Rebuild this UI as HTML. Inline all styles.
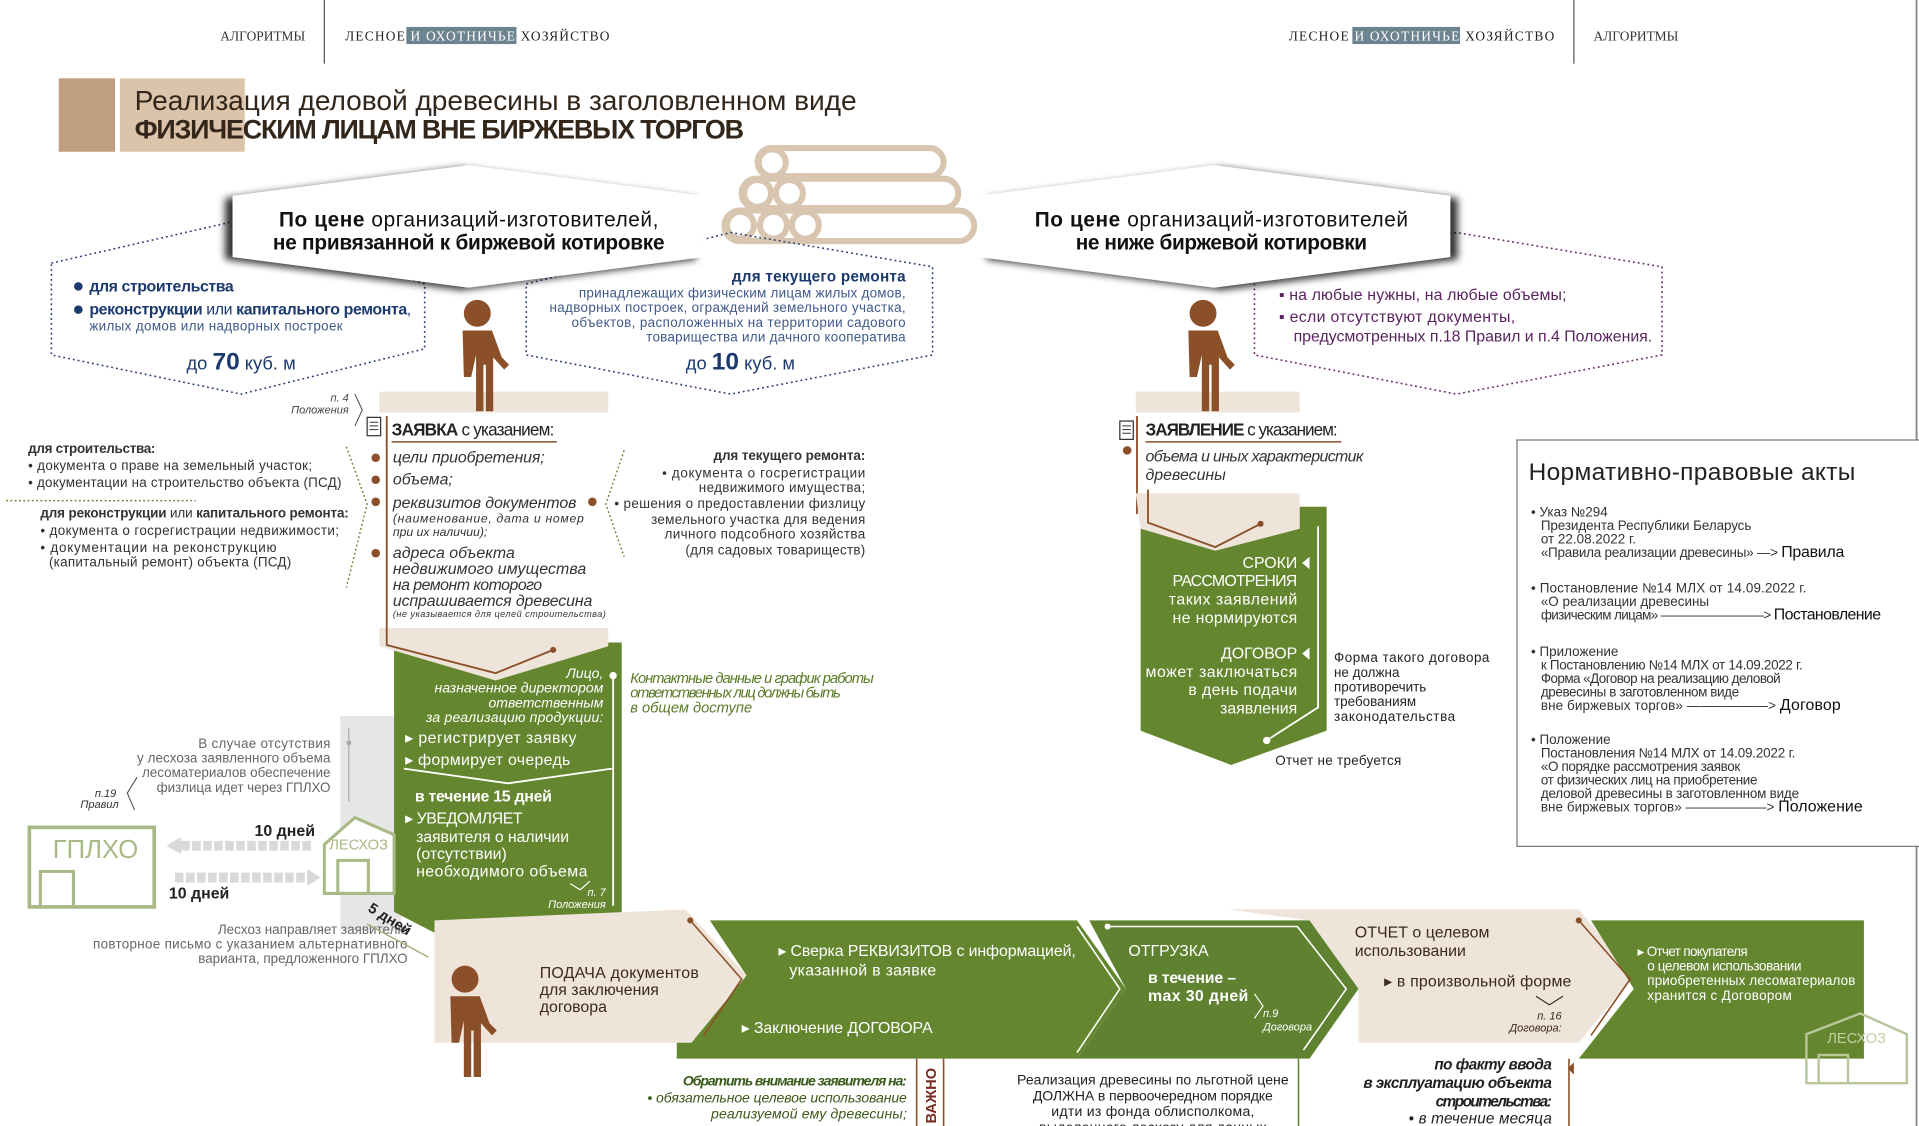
<!DOCTYPE html>
<html><head><meta charset="utf-8">
<style>
html,body{margin:0;padding:0;background:#fff;width:1919px;height:1126px;overflow:hidden}
svg{display:block}
text{font-family:"Liberation Sans Narrow","Liberation Sans",sans-serif}
.it{font-style:italic}
.b{font-weight:bold}
.w{fill:#fff}
.r{text-anchor:end}
.m{text-anchor:middle}
</style></head><body>
<svg width="1919" height="1126" viewBox="0 0 1568 920" preserveAspectRatio="none" xmlns="http://www.w3.org/2000/svg">
<defs>
<filter id="shL" x="-20%" y="-20%" width="140%" height="140%"><feGaussianBlur in="SourceAlpha" stdDeviation="3"/><feOffset dx="-6" dy="2"/><feComponentTransfer><feFuncA type="linear" slope="0.8"/></feComponentTransfer><feMerge><feMergeNode/><feMergeNode in="SourceGraphic"/></feMerge></filter>
<filter id="shR" x="-20%" y="-20%" width="140%" height="140%"><feGaussianBlur in="SourceAlpha" stdDeviation="3"/><feOffset dx="6" dy="2"/><feComponentTransfer><feFuncA type="linear" slope="0.8"/></feComponentTransfer><feMerge><feMergeNode/><feMergeNode in="SourceGraphic"/></feMerge></filter>
<g id="person" fill="#8b5029"><circle cx="0" cy="0" r="11"/><path d="M-12,14 h24 l8,22 l6,6 l-4,4 l-9,-10 v44 h-6 v-38 h-2 v38 h-6 v-46 l-4,18 h-6 z"/></g>
</defs>

<!-- header -->
<text x="180" y="33" style="font-family:'Liberation Serif',serif" font-size="11" fill="#333">АЛГОРИТМЫ</text>
<line x1="265" y1="0" x2="265" y2="52" stroke="#555" stroke-width="1"/>
<rect x="332" y="22" width="90" height="14" fill="#6e8390"/>
<text x="282" y="33" style="font-family:'Liberation Serif',serif" font-size="11" fill="#222" textLength="216">ЛЕСНОЕ <tspan fill="#fff">И ОХОТНИЧЬЕ</tspan> ХОЗЯЙСТВО</text>
<rect x="1105" y="22" width="88" height="14" fill="#6e8390"/>
<text x="1053" y="33" style="font-family:'Liberation Serif',serif" font-size="11" fill="#222" textLength="217">ЛЕСНОЕ <tspan fill="#fff">И ОХОТНИЧЬЕ</tspan> ХОЗЯЙСТВО</text>
<line x1="1286" y1="0" x2="1286" y2="52" stroke="#555"/>
<text x="1302" y="33" style="font-family:'Liberation Serif',serif" font-size="11" fill="#333">АЛГОРИТМЫ</text>
<line x1="1566" y1="0" x2="1566" y2="920" stroke="#888" stroke-width="1.5"/>

<!-- title -->
<rect x="48" y="64" width="46" height="60" fill="#bf9f7e"/>
<rect x="98" y="64" width="102" height="60" fill="#dcc4aa"/>
<text x="110" y="90" font-size="23" fill="#33261b" textLength="590">Реализация деловой древесины в заголовленном виде</text>
<text x="110" y="113" font-size="22" font-weight="bold" fill="#33261b" textLength="498">ФИЗИЧЕСКИМ ЛИЦАМ ВНЕ БИРЖЕВЫХ ТОРГОВ</text>

<!-- logs -->
<g fill="#fff" stroke="#d9c6b1" stroke-width="5">
<rect x="592" y="172" width="204" height="25" rx="12.5"/>
<rect x="606" y="146" width="177" height="24" rx="12"/>
<rect x="619" y="121" width="152" height="23" rx="11.5"/>
<circle cx="631" cy="133" r="11"/>
<circle cx="619" cy="158" r="11"/><circle cx="645" cy="158" r="11"/>
<circle cx="605" cy="184" r="11"/><circle cx="632" cy="184" r="11"/><circle cx="658" cy="184" r="11"/>
</g>

<!-- dotted hexagons -->
<polygon points="42,215 195,180 347,232 347,285 197,322 42,290" fill="none" stroke="#2b3e78" stroke-width="1.3" stroke-dasharray="1.5,2.5"/>
<polygon points="430,232 597,190 762,218 762,290 597,322 430,290" fill="none" stroke="#2b3e78" stroke-width="1.3" stroke-dasharray="1.5,2.5"/>
<polygon points="1025,230 1190,190 1358,218 1358,290 1190,322 1025,290" fill="none" stroke="#6b2b6b" stroke-width="1.3" stroke-dasharray="1.5,2.5"/>

<!-- hexagons -->
<polygon points="190,160 383,135 575,160 575,210 383,235 190,210" fill="#fff" filter="url(#shL)"/>
<text x="383" y="185" class="m" font-size="17" fill="#111" textLength="310"><tspan font-weight="bold">По цене</tspan> организаций-изготовителей,</text>
<text x="383" y="204" class="m" font-size="17" font-weight="bold" fill="#111" textLength="320">не привязанной к биржевой котировке</text>
<polygon points="800,160 992,135 1185,160 1185,210 992,235 800,210" fill="#fff" filter="url(#shR)"/>
<text x="998" y="185" class="m" font-size="17" fill="#111" textLength="305"><tspan font-weight="bold">По цене</tspan> организаций-изготовителей</text>
<text x="998" y="204" class="m" font-size="17" font-weight="bold" fill="#111" textLength="238">не ниже биржевой котировки</text>

<!-- left dotted content -->
<circle cx="64" cy="234" r="3.5" fill="#1d3a6e"/><circle cx="64" cy="253" r="3.5" fill="#1d3a6e"/>
<text x="73" y="238" font-size="13" font-weight="bold" fill="#1d3a6e" textLength="118">для строительства</text>
<text x="73" y="257" font-size="13" fill="#1d3a6e" textLength="263"><tspan font-weight="bold">реконструкции</tspan> или <tspan font-weight="bold">капитального ремонта</tspan>,</text>
<text x="73" y="270" font-size="11" fill="#3f5a8a" textLength="207">жилых домов или надворных построек</text>
<text x="197" y="302" class="m" font-size="15" fill="#1d3a6e">до <tspan font-size="20" font-weight="bold">70</tspan> куб. м</text>

<text x="740" y="230" class="r b" font-size="12.5" fill="#1d3a6e" textLength="142">для текущего ремонта</text>
<text x="740" y="243" class="r" font-size="11" fill="#3f5a8a" textLength="267">принадлежащих физическим лицам жилых домов,</text>
<text x="740" y="255" class="r" font-size="11" fill="#3f5a8a" textLength="291">надворных построек, ограждений земельного участка,</text>
<text x="740" y="267" class="r" font-size="11" fill="#3f5a8a" textLength="273">объектов, расположенных на территории садового</text>
<text x="740" y="279" class="r" font-size="11" fill="#3f5a8a" textLength="212">товарищества или дачного кооператива</text>
<text x="605" y="302" class="m" font-size="15" fill="#1d3a6e">до <tspan font-size="20" font-weight="bold">10</tspan> куб. м</text>

<text x="1045" y="245" font-size="13" fill="#5a2360" textLength="235">▪ на любые нужны, на любые объемы;</text>
<text x="1045" y="263" font-size="13" fill="#5a2360" textLength="193">▪ если отсутствуют документы,</text>
<text x="1057" y="279" font-size="13" fill="#5a2360" textLength="293">предусмотренных п.18 Правил и п.4 Положения.</text>

<!-- beige bands -->
<rect x="310" y="320" width="187" height="17" fill="#efe4da"/>
<rect x="928" y="320" width="134" height="17" fill="#efe4da"/>
<use href="#person" x="390" y="256"/>
<use href="#person" x="983" y="256"/>

<!-- ZAYAVKA -->
<text x="285" y="328" class="r it" font-size="9" fill="#444">п. 4</text>
<text x="285" y="338" class="r it" font-size="9" fill="#444">Положения</text>
<path d="M290,322 L296,335 L290,348" fill="none" stroke="#444" stroke-width="0.8"/>
<rect x="300" y="341" width="11" height="15" fill="#fff" stroke="#333"/>
<path d="M302,345 h7 M302,348 h7 M302,351 h7" stroke="#333" stroke-width="0.8"/>
<line x1="316" y1="340" x2="316" y2="505" stroke="#8b5029" stroke-width="1.5"/>
<text x="320" y="356" font-size="14" fill="#222" textLength="133"><tspan font-weight="bold">ЗАЯВКА</tspan> с указанием:</text>
<line x1="320" y1="361" x2="455" y2="361" stroke="#8b5029" stroke-width="1.2"/>
<g fill="#8b5029"><circle cx="307" cy="374" r="3.5"/><circle cx="307" cy="392" r="3.5"/><circle cx="307" cy="410" r="3.5"/><circle cx="307" cy="452" r="3.5"/><circle cx="484" cy="410" r="3.5"/></g>
<g fill="#333" font-style="italic">
<text x="321" y="378" font-size="13" textLength="124">цели приобретения;</text>
<text x="321" y="396" font-size="13">объема;</text>
<text x="321" y="415" font-size="13" textLength="150">реквизитов документов</text>
<text x="321" y="427" font-size="10" textLength="156">(наименование, дата и номер</text>
<text x="321" y="438" font-size="10">при их наличии);</text>
<text x="321" y="456" font-size="13">адреса объекта</text>
<text x="321" y="469" font-size="13" textLength="158">недвижимого имущества</text>
<text x="321" y="482" font-size="13" textLength="122">на ремонт которого</text>
<text x="321" y="495" font-size="13" textLength="163">испрашивается древесина</text>
<text x="321" y="504" font-size="7.5" textLength="174">(не указывается для целей строительства)</text>
</g>
<path d="M283,365 L300,412 L283,480" fill="none" stroke="#5f8a2e" stroke-width="1.2" stroke-dasharray="1.5,2"/>
<path d="M510,368 L495,412 L510,455" fill="none" stroke="#5f8a2e" stroke-width="1.2" stroke-dasharray="1.5,2"/>
<line x1="5" y1="409" x2="160" y2="409" stroke="#5f8a2e" stroke-width="1.2" stroke-dasharray="1.5,2"/>
<g fill="#333" font-size="11">
<text x="23" y="370" font-weight="bold" textLength="104">для строительства:</text>
<text x="23" y="384" textLength="232">• документа о праве на земельный участок;</text>
<text x="23" y="398" textLength="256">• документации на строительство объекта (ПСД)</text>
<text x="33" y="423" textLength="252"><tspan font-weight="bold">для реконструкции</tspan> или <tspan font-weight="bold">капитального ремонта:</tspan></text>
<text x="33" y="437" textLength="244">• документа о госрегистрации недвижимости;</text>
<text x="33" y="451" textLength="193">• документации на реконструкцию</text>
<text x="40" y="463" textLength="198">(капитальный ремонт) объекта (ПСД)</text>
<text x="707" y="376" class="r" font-weight="bold" textLength="124">для текущего ремонта:</text>
<text x="707" y="390" class="r" textLength="166">•  документа о госрегистрации</text>
<text x="707" y="402" class="r" textLength="136">недвижимого имущества;</text>
<text x="707" y="415" class="r" textLength="205">• решения о предоставлении физлицу</text>
<text x="707" y="428" class="r" textLength="175">земельного участка для ведения</text>
<text x="707" y="440" class="r" textLength="164">личного подсобного хозяйства</text>
<text x="707" y="453" class="r" textLength="147">(для садовых товариществ)</text>
</g>

<!-- gray band left -->
<rect x="278" y="585" width="50" height="175" fill="#e6e6e6"/>
<line x1="285" y1="595" x2="285" y2="655" stroke="#aaa" stroke-width="1"/>
<circle cx="285" cy="607" r="2" fill="#aaa"/>

<!-- green big -->
<polygon points="322,525 508,525 508,745 415,793 322,745" fill="#64862e"/>
<polygon points="310,513 497,513 497,528 405,556 310,528" fill="#efe4da"/>
<path d="M316,505 V527 L405,550 L452,531" fill="none" stroke="#8b5029" stroke-width="1.5"/>
<circle cx="452" cy="531" r="2.5" fill="#8b5029"/>
<line x1="501" y1="552" x2="501" y2="740" stroke="#fff" stroke-width="1.5"/>
<circle cx="501" cy="552" r="3" fill="#fff"/>
<g fill="#fff">
<text x="493" y="554" class="r" font-size="11.5" font-style="italic">Лицо,</text>
<text x="493" y="566" class="r" font-size="11.5" font-style="italic" textLength="138">назначенное директором</text>
<text x="493" y="578" class="r" font-size="11.5" font-style="italic">ответственным</text>
<text x="493" y="590" class="r" font-size="11.5" font-style="italic" textLength="145">за реализацию продукции:</text>
<text x="331" y="607" font-size="13" textLength="140">▸ регистрирует заявку</text>
<text x="331" y="625" font-size="13" textLength="135">▸ формирует очередь</text>
<text x="339" y="655" font-size="13" font-weight="bold" textLength="112">в течение 15 дней</text>
<text x="331" y="673" font-size="13" textLength="96">▸ УВЕДОМЛЯЕТ</text>
<text x="340" y="688" font-size="13" textLength="125">заявителя о наличии</text>
<text x="340" y="702" font-size="13">(отсутствии)</text>
<text x="340" y="716" font-size="13" textLength="140">необходимого объема</text>
<text x="495" y="732" class="r" font-size="9" font-style="italic">п. 7</text>
<text x="495" y="742" class="r" font-size="9" font-style="italic">Положения</text>
</g>
<path d="M330,628 L415,640 L500,628" fill="none" stroke="#fff" stroke-width="1.5"/>
<path d="M466,722 L474,727 L482,720" fill="none" stroke="#fff" stroke-width="1"/>
<g fill="#5b7a27" font-size="12" font-style="italic">
<text x="515" y="558" textLength="199">Контактные данные и график работы</text>
<text x="515" y="570" textLength="172">ответственных лиц должны быть</text>
<text x="515" y="582">в общем доступе</text>
</g>

<!-- GPLHO -->
<g fill="#666" font-size="11">
<text x="270" y="611" class="r" textLength="108">В случае отсутствия</text>
<text x="270" y="623" class="r" textLength="158">у лесхоза заявленного объема</text>
<text x="270" y="635" class="r" textLength="154">лесоматериалов обеспечение</text>
<text x="270" y="647" class="r" textLength="142">физлица идет через ГПЛХО</text>
</g>
<text x="95" y="651" class="r" font-size="9" font-style="italic" fill="#333">п.19</text>
<text x="97" y="660" class="r" font-size="9" font-style="italic" fill="#333">Правил</text>
<path d="M112,635 L104,648 L110,662" fill="none" stroke="#444" stroke-width="0.8"/>
<rect x="24" y="676" width="102" height="65" fill="#fff" stroke="#a9b985" stroke-width="3"/>
<rect x="33" y="712" width="27" height="29" fill="none" stroke="#a9b985" stroke-width="2.5"/>
<text x="78" y="701" class="m" font-size="21" fill="#a9b985">ГПЛХО</text>
<polygon points="265,730 265,690 290,668 322,682 322,730" fill="#fff" stroke="#a9b985" stroke-width="2.5"/>
<rect x="276" y="703" width="25" height="27" fill="none" stroke="#a9b985" stroke-width="2.5"/>
<text x="293" y="694" class="m" font-size="12" fill="#a9b985">ЛЕСХОЗ</text>
<line x1="148" y1="691" x2="254" y2="691" stroke="#d9d9d9" stroke-width="8" stroke-dasharray="7,2"/>
<polygon points="136,691 148,684 148,698" fill="#d9d9d9"/>
<line x1="143" y1="717" x2="252" y2="717" stroke="#d9d9d9" stroke-width="8" stroke-dasharray="7,2"/>
<polygon points="262,717 251,710 251,724" fill="#d9d9d9"/>
<text x="208" y="683" font-size="13" font-weight="bold" fill="#222">10 дней</text>
<text x="138" y="734" font-size="13" font-weight="bold" fill="#222">10 дней</text>
<g fill="#666" font-size="11">
<text x="333" y="763" class="r" textLength="155">Лесхоз направляет заявителю</text>
<text x="333" y="775" class="r" textLength="257">повторное письмо с указанием альтернативного</text>
<text x="333" y="787" class="r" textLength="171">варианта, предложенного ГПЛХО</text>
</g>
<text x="300" y="744" font-size="12" font-weight="bold" fill="#222" transform="rotate(32 300 744)">5 дней</text>
<line x1="300" y1="755" x2="350" y2="782" stroke="#9fb07a" stroke-width="1.2"/>

<!-- bottom flow -->
<polygon points="355,752 560,743 610,797 565,852 355,852" fill="#efe4da"/>
<polygon points="1003,743 1290,743 1335,797 1290,852 1110,852 1110,808 1070,752" fill="#efe4da"/>
<polygon points="580,752 880,752 920,808 880,865 553,865 553,852 565,852 610,797" fill="#64862e"/>
<polygon points="890,752 1070,752 1110,808 1070,865 880,865 920,808" fill="#5f8230"/>
<polygon points="1300,752 1523,752 1523,865 1290,865 1335,808" fill="#64862e"/>
<path d="M564,752 L606,800 L575,846" fill="none" stroke="#8b5029" stroke-width="1.3"/>
<circle cx="564" cy="752" r="2.5" fill="#8b5029"/>
<path d="M1290,752 L1332,800 L1300,846" fill="none" stroke="#8b5029" stroke-width="1.3"/>
<circle cx="1290" cy="752" r="2.5" fill="#8b5029"/>
<path d="M880,757 L915,808 L880,860" fill="none" stroke="#fff" stroke-width="1.3"/>
<path d="M905,757 H1060 L1100,808 L1065,858" fill="none" stroke="#fff" stroke-width="1.3"/>
<circle cx="905" cy="757" r="2.5" fill="#fff"/>
<use href="#person" x="380" y="800"/>
<g fill="#3a2a1e" font-size="13">
<text x="441" y="799" textLength="130">ПОДАЧА документов</text>
<text x="441" y="813">для заключения</text>
<text x="441" y="827">договора</text>
<text x="1107" y="766" textLength="110">ОТЧЕТ о целевом</text>
<text x="1107" y="781">использовании</text>
<text x="1131" y="806" textLength="153">▸ в произвольной форме</text>
<text x="1276" y="833" class="r" font-size="9" font-style="italic">п. 16</text>
<text x="1276" y="843" class="r" font-size="9" font-style="italic">Договора:</text>
</g>
<path d="M1255,814 L1266,821 L1277,814" fill="none" stroke="#3a2a1e" stroke-width="1"/>
<g fill="#fff" font-size="13">
<text x="636" y="781" textLength="243">▸ Сверка РЕКВИЗИТОВ  с информацией,</text>
<text x="645" y="797" textLength="120">указанной в заявке</text>
<text x="606" y="844" textLength="156">▸ Заключение ДОГОВОРА</text>
<text x="922" y="781">ОТГРУЗКА</text>
<text x="938" y="803" font-weight="bold" textLength="72">в течение –</text>
<text x="938" y="818" font-weight="bold" textLength="82">max 30 дней</text>
<text x="1032" y="831" font-size="9" font-style="italic">п.9</text>
<text x="1032" y="842" font-size="9" font-style="italic">Договора</text>
<text x="1338" y="781" font-size="11" textLength="90">▸ Отчет покупателя</text>
<text x="1346" y="793" font-size="11" textLength="126">о целевом использовании</text>
<text x="1346" y="805" font-size="11" textLength="170">приобретенных лесоматериалов</text>
<text x="1346" y="817" font-size="11" textLength="118">хранится с Договором</text>
</g>
<path d="M1025,812 L1032,822 L1025,832" fill="none" stroke="#fff" stroke-width="1"/>
<polygon points="1476,885 1476,845 1520,828 1558,845 1558,885" fill="none" stroke="#b8c79b" stroke-width="2"/>
<rect x="1486" y="862" width="24" height="23" fill="none" stroke="#b8c79b" stroke-width="2"/>
<text x="1517" y="852" class="m" font-size="12" fill="#c3d0a8">ЛЕСХОЗ</text>

<!-- below flow -->
<g fill="#3a5a1a" font-size="11.5" font-style="italic">
<text x="741" y="887" class="r" font-weight="bold" textLength="183">Обратить внимание заявителя на:</text>
<text x="741" y="901" class="r" textLength="212">• обязательное целевое использование</text>
<text x="741" y="914" class="r" textLength="160">реализуемой ему древесины;</text>
</g>
<line x1="749" y1="865" x2="749" y2="920" stroke="#8b5029" stroke-width="1.3"/>
<line x1="771" y1="865" x2="771" y2="920" stroke="#8b5029" stroke-width="1.3"/>
<text x="760" y="920" font-size="12" font-weight="bold" fill="#7a2a20" transform="rotate(-90 760 920)" dx="2" dy="5">ВАЖНО</text>
<g fill="#222" font-size="11.5" text-anchor="middle">
<text x="942" y="886" textLength="222">Реализация древесины по льготной цене</text>
<text x="942" y="899" textLength="196">ДОЛЖНА в первоочередном порядке</text>
<text x="942" y="912" textLength="166">идти из фонда облисполкома,</text>
<text x="942" y="925" textLength="186">выделенного лесхозу для данных</text>
</g>
<line x1="1061" y1="865" x2="1061" y2="920" stroke="#64862e" stroke-width="1.3"/>
<g fill="#222" font-size="12.5" font-style="italic" font-weight="bold" text-anchor="end">
<text x="1268" y="874" textLength="96">по факту ввода</text>
<text x="1268" y="889" textLength="154">в эксплуатацию объекта</text>
<text x="1268" y="904" textLength="95">строительства:</text>
<text x="1268" y="918" font-weight="normal" textLength="117">• в течение месяца</text>
</g>
<line x1="1282" y1="865" x2="1282" y2="920" stroke="#8b5029" stroke-width="1.3"/>
<polygon points="1286,868 1281,873 1286,878" fill="#8b5029"/>

<!-- right ZAYAVLENIE -->
<rect x="915" y="344" width="11" height="15" fill="#fff" stroke="#333"/>
<path d="M917,348 h7 M917,351 h7 M917,354 h7" stroke="#333" stroke-width="0.8"/>
<line x1="929" y1="340" x2="929" y2="420" stroke="#8b5029" stroke-width="1.5"/>
<text x="936" y="356" font-size="14" fill="#222" textLength="157"><tspan font-weight="bold">ЗАЯВЛЕНИЕ</tspan> с указанием:</text>
<line x1="936" y1="361" x2="1096" y2="361" stroke="#8b5029" stroke-width="1.2"/>
<circle cx="921" cy="368" r="3.5" fill="#8b5029"/>
<text x="936" y="377" font-size="13" font-style="italic" fill="#333" textLength="178">объема и иных характеристик</text>
<text x="936" y="392" font-size="13" font-style="italic" fill="#333">древесины</text>
<polygon points="932,414 1084,414 1084,597 1006,625 932,597" fill="#64862e"/>
<polygon points="928,403 1062,403 1062,432 993,450 932,432" fill="#efe4da"/>
<path d="M938,400 V427 L993,447 L1030,428" fill="none" stroke="#8b5029" stroke-width="1.5"/>
<circle cx="1030" cy="428" r="2.5" fill="#8b5029"/>
<path d="M1077,430 V578 L1035,605" fill="none" stroke="#fff" stroke-width="1.5"/>
<circle cx="1035" cy="605" r="3" fill="#fff"/>
<g fill="#fff" font-size="13" text-anchor="end">
<text x="1060" y="464">СРОКИ</text>
<text x="1060" y="479" textLength="102">РАССМОТРЕНИЯ</text>
<text x="1060" y="494" textLength="105">таких заявлений</text>
<text x="1060" y="509" textLength="102">не нормируются</text>
<text x="1060" y="538">ДОГОВОР</text>
<text x="1060" y="553" textLength="124">может заключаться</text>
<text x="1060" y="568" textLength="89">в день подачи</text>
<text x="1060" y="583">заявления</text>
</g>
<polygon points="1070,455 1064,460 1070,465" fill="#fff"/>
<polygon points="1070,529 1064,534 1070,539" fill="#fff"/>
<g fill="#222" font-size="11">
<text x="1090" y="541" textLength="127">Форма такого договора</text>
<text x="1090" y="553">не должна</text>
<text x="1090" y="565">противоречить</text>
<text x="1090" y="577">требованиям</text>
<text x="1090" y="589" textLength="99">законодательства</text>
<text x="1042" y="625" textLength="103">Отчет не требуется</text>
</g>

<!-- legal acts box -->
<rect x="1239.5" y="359.5" width="330" height="332" fill="#fff" stroke="#777" stroke-width="1"/>
<text x="1249" y="392" font-size="20" fill="#222" textLength="267">Нормативно-правовые акты</text>
<g fill="#333" font-size="11">
<text x="1251" y="422">• Указ №294</text>
<text x="1259" y="433" textLength="172">Президента Республики Беларусь</text>
<text x="1259" y="444">от 22.08.2022 г.</text>
<text x="1259" y="455" textLength="248">«Правила реализации древесины» —&gt; <tspan font-size="13" fill="#111">Правила</tspan></text>
<text x="1251" y="484" textLength="225">• Постановление №14 МЛХ от 14.09.2022 г.</text>
<text x="1259" y="495">«О реализации древесины</text>
<text x="1259" y="506" textLength="278">физическим лицам» ————————&gt; <tspan font-size="13" fill="#111">Постановление</tspan></text>
<text x="1251" y="536">• Приложение</text>
<text x="1259" y="547" textLength="214">к Постановлению №14 МЛХ от 14.09.2022 г.</text>
<text x="1259" y="558" textLength="196">Форма «Договор на реализацию деловой</text>
<text x="1259" y="569" textLength="162">древесины в заготовленном виде</text>
<text x="1259" y="580" textLength="245">вне биржевых торгов» ——————&gt; <tspan font-size="13" fill="#111">Договор</tspan></text>
<text x="1251" y="608">• Положение</text>
<text x="1259" y="619" textLength="208">Постановления №14 МЛХ от 14.09.2022 г.</text>
<text x="1259" y="630" textLength="163">«О порядке рассмотрения заявок</text>
<text x="1259" y="641" textLength="177">от физических лиц на приобретение</text>
<text x="1259" y="652" textLength="211">деловой древесины в заготовленном виде</text>
<text x="1259" y="663" textLength="263">вне биржевых торгов» ——————&gt; <tspan font-size="13" fill="#111">Положение</tspan></text>
</g>
</svg>
</body></html>
